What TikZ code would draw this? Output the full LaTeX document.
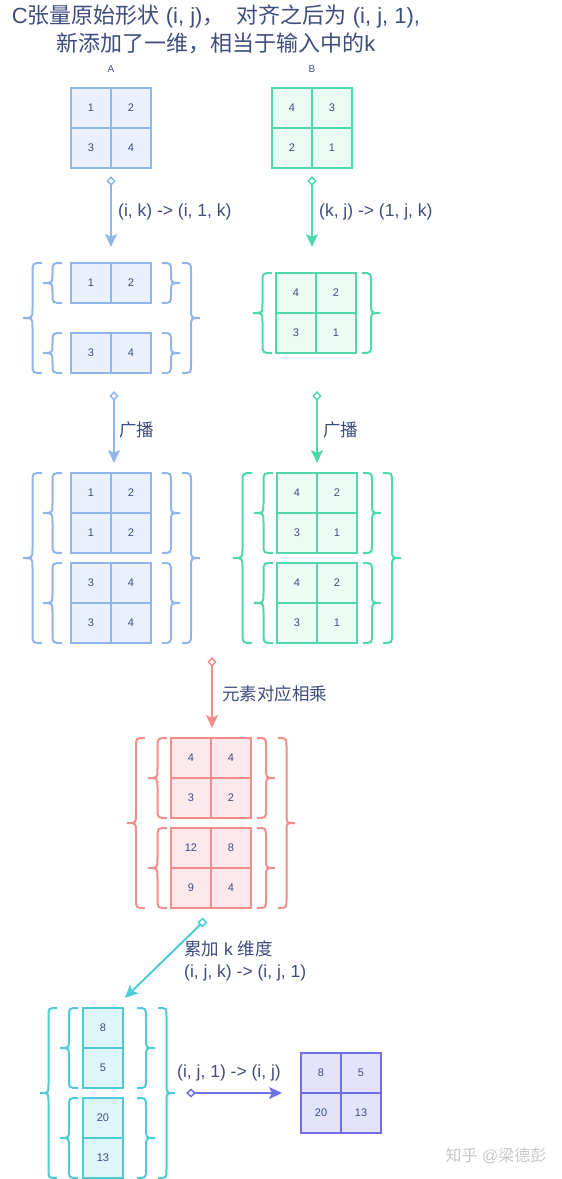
\documentclass[tikz,border=0pt]{standalone}
\usepackage{fontspec}
\setmainfont{Liberation Sans}
\newfontfamily\cjk{Noto Sans CJK SC}
\usepackage{tikz}
\usetikzlibrary{arrows.meta}
\usepackage{xcolor}
\definecolor{txtc}{HTML}{3E4D7E}
\definecolor{adraw}{HTML}{90B4EC}
\definecolor{afill}{HTML}{EAF1FD}
\definecolor{bdraw}{HTML}{4FD8A9}
\definecolor{bfill}{HTML}{EDFBF5}
\definecolor{cdraw}{HTML}{F28E89}
\definecolor{cfill}{HTML}{FDE8EC}
\definecolor{ddraw}{HTML}{4DCBD6}
\definecolor{dfill}{HTML}{DDF6F9}
\definecolor{edraw}{HTML}{7070E6}
\definecolor{efill}{HTML}{E3E3FB}
% curly bracket: [colour] arms x, tip x, top y, bottom y
\newcommand\curl[5][]{%
  \pgfmathsetmacro\curlmx{(#2+#3)/2}%
  \pgfmathsetmacro\curlmy{(#4+#5)/2}%
  \pgfmathsetmacro\curlr{abs(#2-#3)/2}%
  \draw[#1,line width=2pt] (#2,#4) .. controls (\curlmx,#4) .. (\curlmx,#4+\curlr) -- (\curlmx,\curlmy-\curlr)
    .. controls (\curlmx,\curlmy) .. (#3,\curlmy) .. controls (\curlmx,\curlmy) .. (\curlmx,\curlmy+\curlr)
    -- (\curlmx,#5-\curlr) .. controls (\curlmx,#5) .. (#2,#5);}
\tikzset{
  cell/.style={line width=2pt,minimum size=40pt,inner sep=0pt,text=txtc,font=\fontsize{11}{13}\selectfont},
  acell/.style={cell,draw=adraw,fill=afill},
  bcell/.style={cell,draw=bdraw,fill=bfill},
  ccell/.style={cell,draw=cdraw,fill=cfill},
  dcell/.style={cell,draw=ddraw,fill=dfill},
  ecell/.style={cell,draw=edraw,fill=efill},
  lbl/.style={text=txtc,inner sep=2pt,font=\fontsize{17.5}{22}\selectfont},
  flow/.style={line width=2pt,{Diamond[open,length=10pt,width=9pt,line width=1.5pt]}-{Stealth[length=13pt,width=12pt,inset=3pt]}},
}
\begin{document}
\begin{tikzpicture}[x=1pt,y=-1pt]
\useasboundingbox (0,0) rectangle (562,1179);
% title
\node[text=txtc,align=center,font=\fontsize{22}{28}\selectfont] (title) at (216,29)
  {C{\cjk 张量原始形状} (i, j){\cjk ，}\ \ {\cjk 对齐之后为} (i, j, 1),\\{\cjk 新添加了一维，相当于输入中的}k};
\node[text=txtc,font=\fontsize{10}{12}\selectfont] (labA) at (111,69) {A};
\node[text=txtc,font=\fontsize{10}{12}\selectfont] (labB) at (312,69) {B};
% A and B
\node[acell] (a11) at (91,108) {1}; \node[acell] (a12) at (131,108) {2};
\node[acell] (a21) at (91,148) {3}; \node[acell] (a22) at (131,148) {4};
\node[bcell] (b11) at (292,108) {4}; \node[bcell] (b12) at (332,108) {3};
\node[bcell] (b21) at (292,148) {2}; \node[bcell] (b22) at (332,148) {1};
% reshape
\coordinate (a1s) at (111,176); \coordinate (a1e) at (111,247);
\coordinate (b1s) at (312,176); \coordinate (b1e) at (312,247);
\draw[flow,adraw] (a1s) -- (a1e);
\draw[flow,bdraw] (b1s) -- (b1e);
\node[lbl,anchor=west] (ra) at (116,212) {(i, k) -> (i, 1, k)};
\node[lbl,anchor=west] (rb) at (317,212) {(k, j) -> (1, j, k)};
\node[acell] (p11) at (91,283) {1}; \node[acell] (p12) at (131,283) {2};
\node[acell] (p21) at (91,353) {3}; \node[acell] (p22) at (131,353) {4};
\curl[adraw]{62}{43}{263}{303} \curl[adraw]{62}{43}{333}{373} \curl[adraw]{42}{23}{263}{373}
\curl[adraw]{162}{180}{263}{303} \curl[adraw]{162}{180}{333}{373} \curl[adraw]{182}{200}{263}{373}
\node[bcell] (q11) at (296,293) {4}; \node[bcell] (q12) at (336,293) {2};
\node[bcell] (q21) at (296,333) {3}; \node[bcell] (q22) at (336,333) {1};
\curl[bdraw]{272}{253}{273}{353} \curl[bdraw]{362}{380}{273}{353}
% broadcast
\coordinate (a2s) at (114,391); \coordinate (a2e) at (114,463);
\coordinate (b2s) at (317,391); \coordinate (b2e) at (317,463);
\draw[flow,adraw] (a2s) -- (a2e);
\draw[flow,bdraw] (b2s) -- (b2e);
\node[lbl,anchor=west] (ga) at (117,430) {\cjk 广播};
\node[lbl,anchor=west] (gb) at (321,430) {\cjk 广播};
\node[acell] (s11) at (91,493) {1}; \node[acell] (s12) at (131,493) {2};
\node[acell] (s21) at (91,533) {1}; \node[acell] (s22) at (131,533) {2};
\node[acell] (s31) at (91,583) {3}; \node[acell] (s32) at (131,583) {4};
\node[acell] (s41) at (91,623) {3}; \node[acell] (s42) at (131,623) {4};
\curl[adraw]{62}{43}{473}{553} \curl[adraw]{62}{43}{563}{643} \curl[adraw]{42}{23}{473}{643}
\curl[adraw]{162}{180}{473}{553} \curl[adraw]{162}{180}{563}{643} \curl[adraw]{182}{200}{473}{643}
\node[bcell] (t11) at (297,493) {4}; \node[bcell] (t12) at (337,493) {2};
\node[bcell] (t21) at (297,533) {3}; \node[bcell] (t22) at (337,533) {1};
\node[bcell] (t31) at (297,583) {4}; \node[bcell] (t32) at (337,583) {2};
\node[bcell] (t41) at (297,623) {3}; \node[bcell] (t42) at (337,623) {1};
\curl[bdraw]{273}{254}{473}{553} \curl[bdraw]{273}{254}{563}{643} \curl[bdraw]{252}{233}{473}{643}
\curl[bdraw]{363}{381}{473}{553} \curl[bdraw]{363}{381}{563}{643} \curl[bdraw]{383}{401}{473}{643}
% product
\coordinate (cs) at (212,657); \coordinate (ce) at (212,728);
\draw[flow,cdraw] (cs) -- (ce);
\node[lbl,anchor=west] (mul) at (220,694) {\cjk 元素对应相乘};
\node[ccell] (c11) at (191,758) {4}; \node[ccell] (c12) at (231,758) {4};
\node[ccell] (c21) at (191,798) {3}; \node[ccell] (c22) at (231,798) {2};
\node[ccell] (c31) at (191,848) {12}; \node[ccell] (c32) at (231,848) {8};
\node[ccell] (c41) at (191,888) {9}; \node[ccell] (c42) at (231,888) {4};
\curl[cdraw]{167}{148}{738}{818} \curl[cdraw]{167}{148}{828}{908} \curl[cdraw]{145}{127}{738}{908}
\curl[cdraw]{257}{275}{738}{818} \curl[cdraw]{257}{275}{828}{908} \curl[cdraw]{278}{295}{738}{908}
% sum over k
\coordinate (ds) at (205,920); \coordinate (de) at (125,998);
\draw[ddraw,line width=2pt,{Square[open,length=7pt,width=7pt,line width=1.5pt]}-{Stealth[length=13pt,width=12pt,inset=3pt]}] (ds) -- (de);
\node[lbl,anchor=west,align=left] (sum) at (182,961) {{\cjk 累加} k {\cjk 维度}\\(i, j, k) -> (i, j, 1)};
\node[dcell] (d1) at (103,1028) {8};
\node[dcell] (d2) at (103,1068) {5};
\node[dcell] (d3) at (103,1118) {20};
\node[dcell] (d4) at (103,1158) {13};
\curl[ddraw]{78}{60}{1008}{1088} \curl[ddraw]{78}{60}{1098}{1178} \curl[ddraw]{57}{40}{1008}{1178}
\curl[ddraw]{137}{155}{1008}{1088} \curl[ddraw]{137}{155}{1098}{1178} \curl[ddraw]{158}{175}{1008}{1178}
% squeeze
\coordinate (es) at (186,1093); \coordinate (ee) at (282,1093);
\draw[flow,edraw] (es) -- (ee);
\node[lbl] (sq) at (229,1073) {(i, j, 1) -> (i, j)};
\node[ecell] (e11) at (321,1073) {8}; \node[ecell] (e12) at (361,1073) {5};
\node[ecell] (e21) at (321,1113) {20}; \node[ecell] (e22) at (361,1113) {13};
% watermark
\node[text=black!22,font=\fontsize{16}{18}\selectfont] (mark) at (496,1156) {{\cjk 知乎} @{\cjk 梁德彭}};
\end{tikzpicture}
\end{document}
